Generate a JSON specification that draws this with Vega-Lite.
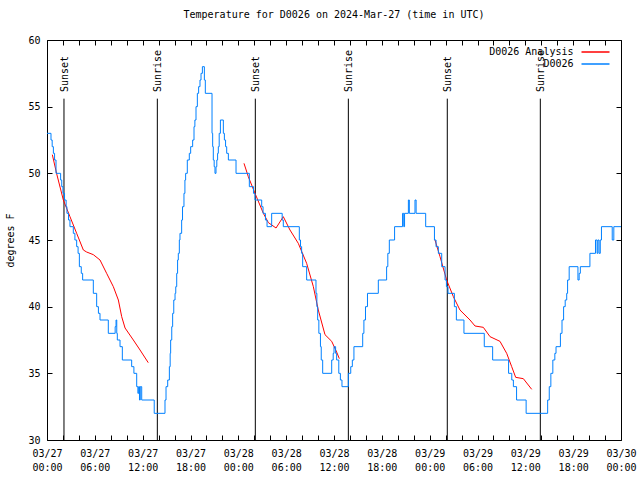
{
  "$schema": "https://vega.github.io/schema/vega-lite/v6.json",
  "width": 574,
  "height": 400,
  "autosize": {"type": "none"},
  "padding": {"left": 47, "top": 40, "right": 19, "bottom": 40},
  "background": "white",
  "title": {"text": "Temperature for D0026 on 2024-Mar-27 (time in UTC)", "font": "DejaVu Sans Mono", "fontSize": 10, "fontWeight": "normal", "color": "black", "anchor": "middle", "offset": 15},
  "config": {
    "view": {"stroke": "black", "strokeWidth": 1},
    "font": "DejaVu Sans Mono",
    "axis": {"grid": false, "domain": false, "labelColor": "black", "labelFont": "DejaVu Sans Mono", "labelFontSize": 10, "titleFont": "DejaVu Sans Mono", "titleFontSize": 10, "titleFontWeight": "normal", "titleColor": "black"},
    "legend": {"labelFont": "DejaVu Sans Mono", "labelFontSize": 10, "labelColor": "black"}
  },
  "datasets": {
    "obs": [
      {"h":0,"t":53},{"h":0.5,"t":52.5},{"h":0.65,"t":52},{"h":0.8,"t":51.5},{"h":0.95,"t":51},{"h":1.13,"t":50},{"h":1.71,"t":49.5},{"h":1.85,"t":49},{"h":2.0,"t":48.5},{"h":2.2,"t":48},{"h":2.4,"t":47.5},{"h":2.5,"t":47},{"h":2.7,"t":46.5},{"h":2.88,"t":46},{"h":3.3,"t":45.5},{"h":3.5,"t":45},{"h":3.72,"t":44.5},{"h":3.9,"t":44},{"h":4.06,"t":43},{"h":4.3,"t":42.5},{"h":4.47,"t":42},{"h":5.81,"t":41},{"h":6.23,"t":40},{"h":6.45,"t":39.5},{"h":6.65,"t":39},{"h":7.69,"t":38},{"h":8.55,"t":38.5},{"h":8.66,"t":39},{"h":8.75,"t":38},{"h":8.82,"t":37.5},{"h":9.16,"t":37},{"h":9.45,"t":36},{"h":10.62,"t":35.5},{"h":10.9,"t":35},{"h":11.25,"t":34},{"h":11.4,"t":33.5},{"h":11.5,"t":34},{"h":11.6,"t":33},{"h":11.7,"t":34},{"h":11.88,"t":33},{"h":13.45,"t":32},{"h":14.8,"t":33},{"h":14.93,"t":34},{"h":15.14,"t":34.5},{"h":15.35,"t":35.5},{"h":15.45,"t":36.5},{"h":15.51,"t":37.5},{"h":15.65,"t":38.5},{"h":15.76,"t":39.5},{"h":15.9,"t":40.5},{"h":16.06,"t":41},{"h":16.15,"t":41.5},{"h":16.27,"t":42.5},{"h":16.38,"t":43.5},{"h":16.47,"t":44},{"h":16.6,"t":45},{"h":16.68,"t":45.5},{"h":16.89,"t":46.5},{"h":17.0,"t":47.5},{"h":17.18,"t":48.5},{"h":17.3,"t":49.5},{"h":17.39,"t":50},{"h":17.6,"t":51},{"h":17.85,"t":51.5},{"h":18.02,"t":52},{"h":18.27,"t":52.5},{"h":18.44,"t":53.5},{"h":18.55,"t":54},{"h":18.69,"t":55},{"h":18.86,"t":56},{"h":19.02,"t":56.5},{"h":19.19,"t":57},{"h":19.32,"t":57.5},{"h":19.49,"t":58},{"h":19.74,"t":57},{"h":19.86,"t":56},{"h":20.7,"t":53},{"h":20.78,"t":52},{"h":20.86,"t":51},{"h":20.97,"t":50.5},{"h":21.07,"t":50},{"h":21.2,"t":50.5},{"h":21.3,"t":51},{"h":21.4,"t":51.5},{"h":21.49,"t":52},{"h":21.6,"t":53},{"h":21.75,"t":54},{"h":22.12,"t":53},{"h":22.25,"t":52.5},{"h":22.4,"t":52},{"h":22.54,"t":51.5},{"h":22.75,"t":51},{"h":23.71,"t":50},{"h":25.38,"t":49},{"h":25.9,"t":48.5},{"h":26.09,"t":48},{"h":26.93,"t":47.5},{"h":27.1,"t":47},{"h":27.4,"t":46.5},{"h":27.6,"t":46},{"h":28.18,"t":47},{"h":29.5,"t":46.5},{"h":29.64,"t":46},{"h":31.65,"t":45},{"h":31.8,"t":44.5},{"h":31.94,"t":44},{"h":32.07,"t":43},{"h":32.57,"t":42},{"h":33.74,"t":41},{"h":33.85,"t":40},{"h":33.95,"t":39},{"h":34.1,"t":38},{"h":34.3,"t":37},{"h":34.4,"t":36},{"h":34.58,"t":35},{"h":35.71,"t":36},{"h":35.9,"t":36.5},{"h":36.0,"t":37},{"h":36.2,"t":36.5},{"h":36.33,"t":36},{"h":36.6,"t":35},{"h":36.8,"t":34.5},{"h":37.0,"t":34},{"h":37.8,"t":35},{"h":38.1,"t":35.5},{"h":38.3,"t":36},{"h":38.5,"t":37},{"h":39.6,"t":38},{"h":39.75,"t":39},{"h":39.95,"t":40},{"h":40.2,"t":41},{"h":41.56,"t":42},{"h":42.6,"t":43},{"h":42.75,"t":44},{"h":42.94,"t":45},{"h":43.6,"t":46},{"h":44.6,"t":47},{"h":44.75,"t":46},{"h":44.85,"t":47},{"h":45.33,"t":48},{"h":45.45,"t":47},{"h":46.16,"t":48},{"h":46.3,"t":47},{"h":47.5,"t":46},{"h":48.6,"t":45},{"h":48.8,"t":44.5},{"h":49.09,"t":44},{"h":49.51,"t":43},{"h":49.93,"t":42},{"h":50.1,"t":41.5},{"h":50.3,"t":41},{"h":51.1,"t":40},{"h":51.35,"t":39},{"h":52.3,"t":38},{"h":54.85,"t":37},{"h":55.9,"t":36},{"h":57.9,"t":35},{"h":58.3,"t":34.5},{"h":58.5,"t":34},{"h":58.9,"t":33},{"h":60.1,"t":32},{"h":62.8,"t":33},{"h":63.0,"t":34},{"h":63.2,"t":35},{"h":63.45,"t":36},{"h":63.7,"t":36.5},{"h":63.85,"t":37},{"h":64.4,"t":38},{"h":64.6,"t":39},{"h":64.8,"t":40},{"h":65.0,"t":40.5},{"h":65.19,"t":41},{"h":65.3,"t":42},{"h":65.5,"t":43},{"h":66.6,"t":42},{"h":66.75,"t":42.5},{"h":66.9,"t":43},{"h":68.1,"t":44},{"h":68.8,"t":45},{"h":69.0,"t":44},{"h":69.1,"t":45},{"h":69.25,"t":44},{"h":69.4,"t":45},{"h":69.55,"t":46},{"h":70.9,"t":45},{"h":71.1,"t":46},{"h":72,"t":46}
    ],
    "ana": [
      {"seg":1,"h":0.67,"t":51.4},{"seg":1,"h":1.2,"t":50},{"seg":1,"h":2.05,"t":48},{"seg":1,"h":2.88,"t":46.75},{"seg":1,"h":3.72,"t":45.5},{"seg":1,"h":4.56,"t":44.25},{"seg":1,"h":4.97,"t":44.1},{"seg":1,"h":5.81,"t":43.9},{"seg":1,"h":6.65,"t":43.5},{"seg":1,"h":7.48,"t":42.5},{"seg":1,"h":8.32,"t":41.5},{"seg":1,"h":8.95,"t":40.5},{"seg":1,"h":9.37,"t":39.25},{"seg":1,"h":9.79,"t":38.4},{"seg":1,"h":10.83,"t":37.5},{"seg":1,"h":11.67,"t":36.75},{"seg":1,"h":12.7,"t":35.8},
      {"seg":2,"h":24.71,"t":50.75},{"seg":2,"h":25.25,"t":49.75},{"seg":2,"h":26.09,"t":48.5},{"seg":2,"h":27.14,"t":47},{"seg":2,"h":27.77,"t":46.3},{"seg":2,"h":28.73,"t":45.9},{"seg":2,"h":29.64,"t":46.75},{"seg":2,"h":30.48,"t":45.75},{"seg":2,"h":31.52,"t":44.75},{"seg":2,"h":32.57,"t":43.25},{"seg":2,"h":33.41,"t":41.5},{"seg":2,"h":34.03,"t":39.75},{"seg":2,"h":34.87,"t":37.9},{"seg":2,"h":35.71,"t":37.4},{"seg":2,"h":36.33,"t":36.6},{"seg":2,"h":36.67,"t":36.1},
      {"seg":3,"h":48.67,"t":45},{"seg":3,"h":49.3,"t":43.75},{"seg":3,"h":50.13,"t":42},{"seg":3,"h":50.97,"t":40.75},{"seg":3,"h":51.8,"t":39.75},{"seg":3,"h":53.06,"t":39},{"seg":3,"h":53.69,"t":38.55},{"seg":3,"h":54.73,"t":38.45},{"seg":3,"h":55.57,"t":37.75},{"seg":3,"h":56.82,"t":37.4},{"seg":3,"h":57.66,"t":36.5},{"seg":3,"h":58.29,"t":35.5},{"seg":3,"h":58.79,"t":34.7},{"seg":3,"h":59.75,"t":34.6},{"seg":3,"h":60.8,"t":33.8}
    ],
    "sun": [
      {"h":2.13,"event":"Sunset"},{"h":13.84,"event":"Sunrise"},{"h":26.13,"event":"Sunset"},{"h":37.8,"event":"Sunrise"},{"h":50.21,"event":"Sunset"},{"h":61.88,"event":"Sunrise"}
    ]
  },
  "layer": [
    {
      "data": {"name": "sun"},
      "mark": {"type": "rule", "color": "black", "strokeWidth": 1},
      "encoding": {
        "x": {"field": "h", "type": "quantitative", "scale": {"domain": [0, 72], "nice": false, "zero": false}, "axis": null},
        "y": {"datum": 30, "type": "quantitative", "scale": {"domain": [30, 60], "nice": false, "zero": false}, "axis": null},
        "y2": {"datum": 55.6}
      }
    },
    {
      "data": {"name": "sun"},
      "mark": {"type": "text", "angle": 270, "align": "left", "baseline": "middle", "font": "DejaVu Sans Mono", "fontSize": 10, "color": "black", "dy": 1},
      "encoding": {
        "x": {"field": "h", "type": "quantitative", "axis": null},
        "y": {"datum": 56.1, "type": "quantitative", "axis": null},
        "text": {"field": "event"}
      }
    },
    {
      "data": {"name": "ana"},
      "transform": [{"calculate": "'D0026 Analysis'", "as": "series"}],
      "mark": {"type": "line", "strokeWidth": 1, "interpolate": "linear"},
      "encoding": {
        "x": {"field": "h", "type": "quantitative", "axis": {"orient": "top", "values": [0,2,4,6,8,10,12,14,16,18,20,22,24,26,28,30,32,34,36,38,40,42,44,46,48,50,52,54,56,58,60,62,64,66,68,70,72], "labels": false, "title": null, "ticks": true, "tickColor": "black", "tickSize": 5, "tickWidth": 1, "offset": -5, "zindex": 1}},
        "y": {"field": "t", "type": "quantitative", "axis": {"orient": "right", "values": [30,35,40,45,50,55,60], "labels": false, "title": null, "ticks": true, "tickColor": "black", "tickSize": 5, "tickWidth": 1, "offset": -5, "zindex": 1}},
        "detail": {"field": "seg"},
        "color": {"field": "series", "type": "nominal", "scale": {"domain": ["D0026 Analysis", "D0026"], "range": ["#ff0000", "#0080ff"]},
          "legend": {"title": null, "orient": "none", "legendX": 542.5, "legendY": 6, "symbolType": "M-2.8,0H2.8", "symbolSize": 100, "symbolStrokeWidth": 1.5, "labelAlign": "right", "labelOffset": -28, "rowPadding": 1, "padding": 0}}
      }
    },
    {
      "data": {"name": "obs"},
      "transform": [{"calculate": "'D0026'", "as": "series"}],
      "mark": {"type": "line", "strokeWidth": 1, "interpolate": "step-after"},
      "encoding": {
        "x": {"field": "h", "type": "quantitative", "axis": {"orient": "bottom", "values": [0,2,4,6,8,10,12,14,16,18,20,22,24,26,28,30,32,34,36,38,40,42,44,46,48,50,52,54,56,58,60,62,64,66,68,70,72], "labelExpr": "datum.value % 6 == 0 ? ['03/' + (27 + floor(datum.value / 24)), (datum.value % 24 < 10 ? '0' : '') + (datum.value % 24) + ':00'] : ''", "labelOverlap": false, "labelBound": false, "labelFlush": false, "labelLineHeight": 14, "labelPadding": 8, "title": null, "ticks": true, "tickColor": "black", "tickSize": 5, "tickWidth": 1, "offset": -5, "zindex": 1}},
        "y": {"field": "t", "type": "quantitative", "axis": {"orient": "left", "values": [30,35,40,45,50,55,60], "title": "degrees F", "titlePadding": 12, "labelPadding": 7, "ticks": true, "tickColor": "black", "tickSize": 5, "tickWidth": 1, "offset": -5, "zindex": 1}},
        "color": {"field": "series", "type": "nominal"}
      }
    }
  ]
}
